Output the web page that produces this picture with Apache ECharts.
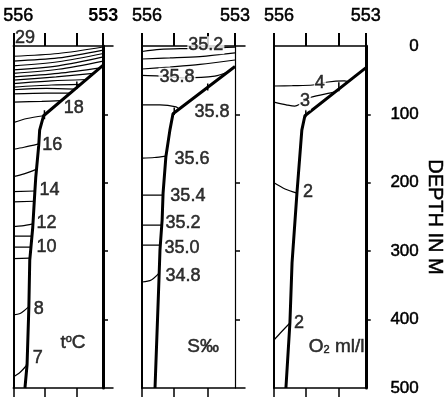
<!DOCTYPE html>
<html><head><meta charset="utf-8">
<script src="https://cdn.jsdelivr.net/npm/echarts@6/dist/echarts.min.js"></script>
<style>html,body{margin:0;padding:0;background:#fff}#c{width:446px;height:406px}</style>
</head><body><div id="c"></div>
<script>
// ---- data ----
const stationNames = ['556', '555', '554', '553'];
const stationPos = [0, 1.04, 2.12, 3];          // position of stations along the section
const depthTicks = [0, 100, 200, 300, 400, 500];  // m

// temperature panel
const tempFront = [[3.0,28],[1.01,102],[0.88,123],[0.85,145],[0.75,192],[0.72,213],[0.65,265],[0.59,294],[0.55,313],[0.52,382],[0.46,466],[0.39,500]];
const tempIsolines = [
  [[0,15],[1.5,11],[3,1.5]],
  [[0,22],[1.5,17.5],[3,6]],
  [[0,29],[1.5,23],[3,11]],
  [[0,35],[1.5,29],[3,16]],
  [[0,40],[1.5,34],[3,22]],
  [[0,45],[1.5,40],[2.9,32]],
  [[0,50],[1.43,45],[2.67,40]],
  [[0,55],[1.27,51],[2.45,49]],
  [[0,60],[1.27,57],[2.25,56]],
  [[0,64],[1.11,62],[2.05,63]],
  [[0,70],[1.11,69],[1.89,69]],
  [[0,82],[0.95,81],[1.6,80]],
  [[0,112],[0.46,106],[1.01,102]],
  [[0,151],[0.36,148],[0.85,143]],
  [[0,191],[0.36,187],[0.78,180]],
  [[0,213],[0.72,212]],
  [[0,228],[0.70,227]],
  [[0,264],[0.29,263],[0.66,260]],
  [[0,278],[0.62,278]],
  [[0,294],[0.59,294]],
  [[0,311],[0.55,310]],
  [[0,393],[0.23,391],[0.52,381]],
  [[0,484],[0.23,477],[0.46,466]]
];
const tempLabels = [[0.39,-12,'29',0],[2.02,91,'18',0],[1.30,145,'16',0],[1.21,210,'14',0],[1.11,259,'12',0],[1.11,294,'10',0],[0.85,385,'8',0],[0.82,456,'7',0]];
const tempMarks = [[1.04,94,107],[2.12,52,63]];
const tempTitle = [1.99, 434, 't{s|o}C'];

// salinity panel
const salFront = [[3.0,30],[1.0,99],[0.90,123],[0.77,162],[0.68,215],[0.65,254],[0.58,298],[0.55,338],[0.48,425],[0.42,500]];
const salIsolines = [
  [[0,8],[0.58,5],[1.39,3.7],[2.19,3],[3,1.5]],
  [[0,19],[0.9,17.5],[1.87,15.4],[3,10]],
  [[0,33.6],[0.9,30.7],[1.87,27],[3,20.5]],
  [[0,43],[0.58,44],[1.4,46.5],[2.35,44],[2.78,38]],
  [[0,86],[0.58,86],[1.1,89],[1.22,93]],
  [[0,164],[0.4,163],[0.77,161]],
  [[0,218],[0.68,218]],
  [[0,262],[0.64,262]],
  [[0,291],[0.59,291]],
  [[0,345],[0.3,342],[0.55,332]]
];
const salLabels = [[2.06,-1,'35.2',1],[1.13,45,'35.8',1],[2.26,96,'35.8',0],[1.61,165,'35.6',0],[1.48,219,'35.4',0],[1.32,259,'35.2',0],[1.29,295,'35.0',0],[1.32,336,'34.8',0]];
const salMarks = [[1.04,90,101],[2.12,55,65]];
const salTitle = [1.97, 439, 'S‰'];

// oxygen panel
const oxyFront = [[3.0,32],[1.01,102],[0.91,123],[0.75,215],[0.59,317],[0.52,405],[0.39,500]];
const oxyIsolines = [
  [[0,58.5],[0.6,58],[1.27,57],[1.7,53],[2.3,51],[2.43,52]],
  [[0,82],[0.4,86],[0.68,88],[0.85,85],[1.21,75],[1.99,67],[2.09,64]],
  [[0,200],[0.36,209],[0.75,215]],
  [[0,430],[0.2,420],[0.52,405]]
];
const oxyLabels = [[1.5,54,'4',1],[1.01,81,'3',1],[1.11,213,'2',0],[0.82,405,'2',0]];
const oxyMarks = [[1.04,93,104],[2.12,53,66]];
const oxyTitle = [2.05, 439, 'O{sub|2} ml/l'];

// ---- chart ----
const FONT = 'Liberation Sans, Arial, Helvetica, sans-serif';
const INK = {color: '#000', textBorderColor: '#000', textBorderWidth: 0.5};
const panels = [
  {left: 11, width: 102, xmax: 3*102/92, rightW: 3, rightOffset: -10, bold: true, front: tempFront, lines: tempIsolines, labels: tempLabels, marks: tempMarks, title: tempTitle},
  {left: 142, width: 103, xmax: 3*103/93, rightW: 1.2, rightOffset: -10, bold: false, front: salFront, lines: salIsolines, labels: salLabels, marks: salMarks, title: salTitle},
  {left: 274, width: 92, xmax: 3, rightW: 3, rightOffset: 0, bold: false, front: oxyFront, lines: oxyIsolines, labels: oxyLabels, marks: oxyMarks, title: oxyTitle}
];

const grid = [], xAxis = [], yAxis = [], series = [];
panels.forEach((p, i) => {
  grid.push({left: p.left, top: 46, width: p.width, height: 342, containLabel: false});
  xAxis.push({
    gridIndex: i, type: 'value', position: 'top', min: 0, max: p.xmax,
    axisLine: {show: true, onZero: false, lineStyle: {color: '#000', width: 1.5}},
    axisTick: {show: true, inside: false, length: 13, customValues: stationPos, lineStyle: {color: '#000', width: 2}},
    axisLabel: {show: true, customValues: [stationPos[0], stationPos[3]], margin: 21, fontSize: 18, color: '#000', fontFamily: FONT,
      formatter: v => v === stationPos[0] ? '{a|' + stationNames[0] + '}' : (p.bold ? '{b|' : '{c|') + stationNames[3] + '}',
      rich: {a: Object.assign({fontSize: 18, fontFamily: FONT, padding: [0, 0, 0, 10]}, INK),
             b: {fontSize: 18, fontWeight: 'bold', fontFamily: FONT, color: '#000'},
             c: Object.assign({fontSize: 18, fontFamily: FONT}, INK)}},
    splitLine: {show: false}
  });
  xAxis.push({
    gridIndex: i, type: 'value', position: 'bottom', min: 0, max: p.xmax,
    axisLine: {show: true, onZero: false, lineStyle: {color: '#000', width: 1.5}},
    axisTick: {show: true, inside: false, length: 9, customValues: stationPos.slice(0, 3), lineStyle: {color: '#000', width: 1.5}},
    axisLabel: {show: false}, splitLine: {show: false}
  });
  yAxis.push({
    gridIndex: i, type: 'value', inverse: true, min: 0, max: 500, interval: 100, position: 'left',
    axisLine: {show: true, onZero: false, lineStyle: {color: '#000', width: 2}},
    axisTick: {show: false}, axisLabel: {show: false}, splitLine: {show: false}
  });
  yAxis.push({
    gridIndex: i, type: 'value', inverse: true, min: 0, max: 500, interval: 100, position: 'right', offset: p.rightOffset,
    axisLine: {show: true, onZero: false, lineStyle: {color: '#000', width: p.rightW}},
    axisTick: {show: true, inside: false, length: 5, customValues: depthTicks.slice(1, 5), lineStyle: {color: '#000', width: 1.5}},
    axisLabel: Object.assign({show: i === 2, customValues: depthTicks, align: 'right', margin: 53, fontSize: 17, fontFamily: FONT}, INK),
    name: i === 2 ? 'DEPTH IN M' : '', nameLocation: 'middle', nameRotate: -90, nameGap: 59,
    nameTextStyle: Object.assign({fontSize: 20, fontFamily: FONT}, INK),
    splitLine: {show: false}
  });
  const xi = 2 * i, yi = 2 * i;
  p.lines.forEach(l => series.push({
    type: 'line', xAxisIndex: xi, yAxisIndex: yi, data: l, symbol: 'none', smooth: 0.3, z: 3,
    lineStyle: {color: '#000', width: 1.2}, silent: true
  }));
  series.push({
    type: 'line', xAxisIndex: xi, yAxisIndex: yi, data: p.front, symbol: 'none', z: 4,
    lineStyle: {color: '#000', width: 3}, silent: true
  });
  p.marks.forEach(m => series.push({
    type: 'line', xAxisIndex: xi, yAxisIndex: yi, data: [[m[0], m[1]], [m[0], m[2]]], symbol: 'none', z: 4,
    lineStyle: {color: '#000', width: 1.5}, silent: true
  }));
  series.push({
    type: 'scatter', xAxisIndex: xi, yAxisIndex: yi, clip: false, symbolSize: 0, z: 6,
    itemStyle: {color: '#000'}, silent: true,
    data: p.labels.map(l => ({value: [l[0], l[1]], name: l[2],
      label: l[3] ? {backgroundColor: '#fff', padding: [0, 1]} : {}})),
    label: Object.assign({show: true, position: 'inside', formatter: '{b}', fontSize: 18, fontFamily: FONT}, INK)
  });
  series.push({
    type: 'scatter', xAxisIndex: xi, yAxisIndex: yi, clip: false, symbolSize: 0, z: 6,
    itemStyle: {color: '#000'}, silent: true,
    data: [{value: [p.title[0], p.title[1]], name: p.title[2]}],
    label: Object.assign({show: true, position: 'inside', formatter: '{b}', fontSize: 19, fontFamily: FONT,
      rich: {s: Object.assign({fontSize: 11, verticalAlign: 'top', fontFamily: FONT}, INK),
             sub: Object.assign({fontSize: 11, verticalAlign: 'bottom', fontFamily: FONT}, INK)}}, INK)
  });
});

const chart = echarts.init(document.getElementById('c'), null, {renderer: 'canvas'});
chart.setOption({animation: false, backgroundColor: '#fff', grid, xAxis, yAxis, series});
</script>
</body></html>
